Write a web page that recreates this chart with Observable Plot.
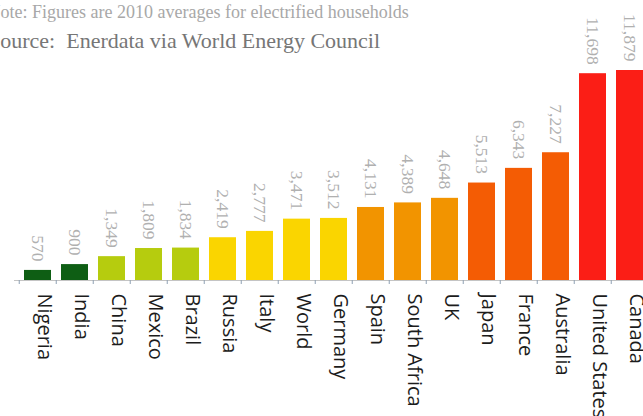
<!DOCTYPE html>
<html>
<head>
<meta charset="utf-8">
<script src="https://cdn.jsdelivr.net/npm/d3@7"></script>
<script src="https://cdn.jsdelivr.net/npm/@observablehq/plot@0.6"></script>
<style>
  html, body { margin: 0; padding: 0; background: #fff; overflow: hidden; width: 643px; height: 416px; }
  #titles { position: relative; height: 56px; }
  .t1 { position: absolute; left: -12.5px; top: 3px; line-height: 1; font-family: "Liberation Serif", serif; font-size: 18px; color: #a8a8a8; white-space: pre; }
  .t2 { position: absolute; left: -12px; top: 30px; line-height: 1; font-family: "Liberation Serif", serif; font-size: 22px; color: #767676; white-space: pre; }
  #chart svg { display: block; overflow: visible; max-width: none !important; }
</style>
</head>
<body>
<div id="titles">
  <div class="t1">Note: Figures are 2010 averages for electrified households</div>
  <div class="t2">Source:  Enerdata via World Energy Council</div>
</div>
<div id="chart"></div>
<script>
const countries = ["Nigeria", "India", "China", "Mexico", "Brazil", "Russia", "Italy", "World", "Germany", "Spain", "South Africa", "UK", "Japan", "France", "Australia", "United States", "Canada"];
const values = [570, 900, 1349, 1809, 1834, 2419, 2777, 3471, 3512, 4131, 4389, 4648, 5513, 6343, 7227, 11698, 11879];
const barColors = ["#0e5e14", "#0e5e14", "#b6cc0e", "#b6cc0e", "#b6cc0e", "#fad500", "#fad500", "#fad500", "#fad500", "#f29400", "#f29400", "#f29400", "#f45c04", "#f45c04", "#f45c04", "#fb1e16", "#fb1e16"];

const data = countries.map((c, i) => ({country: c, value: values[i], color: barColors[i]}));

const W = 652, ML = 14, MR = 0;
const step = (W - ML - MR) / countries.length;

const chart = Plot.plot({
  width: W,
  height: 360,
  marginTop: 14,
  marginBottom: 136,
  marginLeft: ML,
  marginRight: MR,
  style: {background: "transparent", overflow: "visible"},
  x: {domain: countries, paddingInner: 0.28, paddingOuter: 0.14, axis: null},
  y: {domain: [0, 11879], axis: null},
  marks: [
    Plot.barY(data, {x: "country", y: "value", fill: "color"}),
    Plot.ruleY([0], {stroke: "#c4c4c4", strokeWidth: 1.2}),
    Plot.axisX({tickSize: 4, tickFormat: () => "", label: null, dx: -step / 2, stroke: "#8fa0b4"}),
    Plot.text(data, {x: "country", y: "value", text: d => d3.format(",")(d.value), rotate: 90, textAnchor: "end", dy: -9, fill: "#b0b0b0", fontSize: 17.5, fontFamily: "Liberation Serif", ariaLabel: "vlabels"}),
    Plot.text(data, {x: "country", frameAnchor: "bottom", text: "country", rotate: 90, textAnchor: "start", dy: 13, fill: "#1c1c1c", fontSize: 20, fontFamily: "Open Sans", ariaLabel: "xlabels"})
  ]
});
d3.select(chart).selectAll('g[aria-label="xlabels"] text').each(function() {
  const t = this.getAttribute("transform") || "";
  this.setAttribute("transform", t + " scale(1,0.8)");
});
document.getElementById("chart").appendChild(chart);
</script>
</body>
</html>
